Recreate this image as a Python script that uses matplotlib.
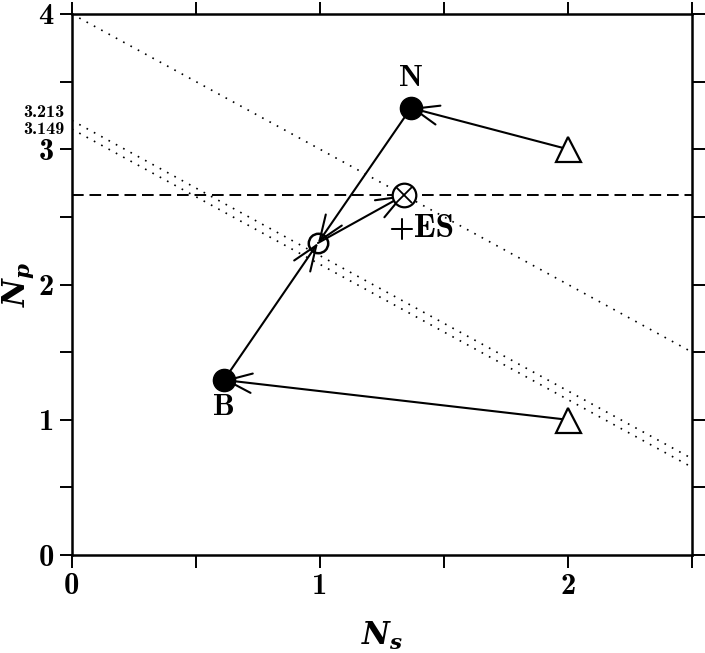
import numpy as np
import matplotlib
matplotlib.use("Agg")
from matplotlib import pyplot as plt

plt.rcParams["mathtext.fontset"] = "custom"
plt.rcParams["mathtext.it"] = "DejaVu Serif:italic:bold"
plt.rcParams["mathtext.rm"] = "cmb10"

# ===== DATA =====
tri_x = [2.0, 2.0]
tri_y = [3.0, 1.0]
stable_x = [1.367, 0.613]          # N, B
stable_y = [3.305, 1.294]
stable_names = ["N", "B"]
saddle = (0.992, 2.307)            # open circle
es = (1.339, 2.66)                 # otimes point
dashed_y = 2.66
dotted_intercepts = [4.0, 3.213, 3.149]
dotted_slope = -1.0
extra_ticks = [3.213, 3.149]

fig = plt.figure(figsize=(7.05, 6.53), dpi=100)
ax = fig.add_axes([0.102, 0.150, 0.8796, 0.8286])

# ===== ISOCLINES =====
xs = np.array([0, 2.5])
for b in dotted_intercepts:
    ax.plot(xs, b + dotted_slope * xs, color="black", lw=1.2, ls=(0, (1, 4)))
ax.axhline(dashed_y, color="black", lw=1.4, ls=(0, (6, 3)))

# ===== ARROWS =====
arrow_kw = dict(arrowstyle="->,head_length=0.9,head_width=0.35", lw=1.5,
                color="black", shrinkA=0, shrinkB=0, mutation_scale=20)
for tx, ty, sx, sy in zip(tri_x, tri_y, stable_x, stable_y):
    ax.annotate("", xy=(sx, sy), xytext=(tx, ty), arrowprops=arrow_kw)
for sx, sy in zip(stable_x, stable_y):
    ax.annotate("", xy=saddle, xytext=(sx, sy), arrowprops=arrow_kw)
ax.annotate("", xy=es, xytext=saddle, arrowprops=arrow_kw)

# ===== MARKERS =====
ax.plot(tri_x, tri_y, "^", ms=18, mfc="white", mec="black", mew=1.6, zorder=5)
ax.plot(stable_x, stable_y, "o", ms=16, color="black", zorder=5)
ax.plot(*saddle, "o", ms=14, mfc="none", mec="black", mew=1.8, zorder=5)
ax.plot(*es, "o", ms=17, mfc="white", mec="black", mew=1.6, zorder=5)
ax.plot(*es, "x", ms=11, color="black", mew=1.3, zorder=6)

ax.text(stable_x[0], stable_y[0] + 0.12, stable_names[0], fontsize=22,
        family="cmb10", ha="center", va="bottom")
ax.text(stable_x[1], stable_y[1] - 0.1, stable_names[1], fontsize=22,
        family="cmb10", ha="center", va="top")
ax.text(es[0] + 0.07, es[1] - 0.14, "+ES", fontsize=24, family="cmb10",
        ha="center", va="top")

# ===== AXES =====
ax.set_xlim(0, 2.5)
ax.set_ylim(0, 4)
ax.set_xticks(np.arange(0, 2.51, 0.5))
ax.set_xticklabels(["0", "", "1", "", "2", ""])
ax.set_yticks(np.arange(0, 4.01, 0.5))
ax.set_yticklabels(["0", "", "1", "", "2", "", "3", "", "4"])
ax.tick_params(direction="out", length=9, width=1.4, labelsize=22,
               top=True, right=True, pad=4)
for lab in ax.get_xticklabels() + ax.get_yticklabels():
    lab.set_family("cmb10")
for sp in ax.spines.values():
    sp.set_linewidth(1.8)

for v, dy in zip(extra_ticks, [0.06, 0.0]):
    ax.text(-0.012, v + dy, f"{v:.3f}", fontsize=13, family="cmb10",
            ha="right", va="center", transform=ax.get_yaxis_transform())

ax.set_xlabel(r"$N_s$", fontsize=22, labelpad=14)
ax.set_ylabel(r"$N_p$", fontsize=22, labelpad=2)

plt.savefig("out.png", dpi=100)
